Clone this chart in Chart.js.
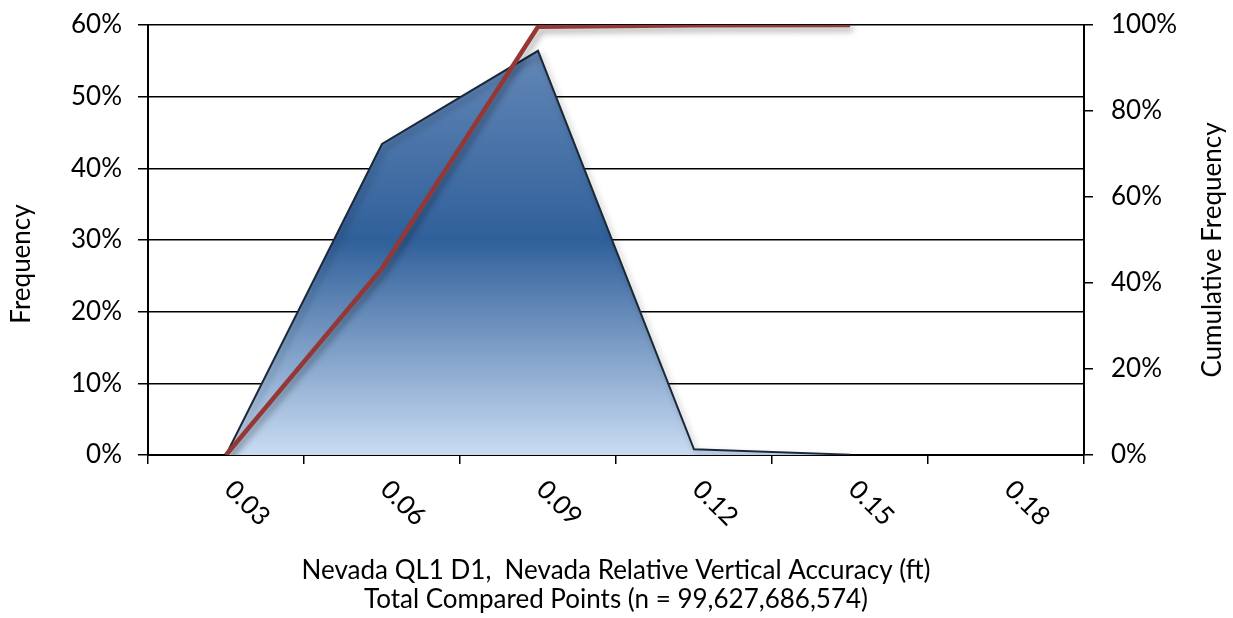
<!DOCTYPE html>
<html>
<head>
<meta charset="utf-8">
<script src="https://cdn.jsdelivr.net/npm/chart.js@4.4.1/dist/chart.umd.min.js"></script>
<style>
  html, body { margin: 0; padding: 0; background: #fff; }
  #wrap { width: 1233px; height: 618px; position: relative; }
</style>
</head>
<body>
<div id="wrap"><canvas id="chart"></canvas></div>
<script>
// data
const categories = ['0.03', '0.06', '0.09', '0.12', '0.15', '0.18'];
const frequency = [0, 43.4, 56.4, 0.8, 0.05, null];
const cumulative = [0, 43.4, 99.6, 99.95, 100, null];
const freqTicks = [0, 10, 20, 30, 40, 50, 60];
const cumTicks = [0, 20, 40, 60, 80, 100];
const xTitle = ['Nevada QL1 D1,  Nevada Relative Vertical Accuracy (ft)', 'Total Compared Points (n = 99,627,686,574)'];
const yTitle = 'Frequency';
const y2Title = 'Cumulative Frequency';

const FONT = 'Lato, "Open Sans", sans-serif';
const FS = 26;
Chart.defaults.font.family = FONT;
Chart.defaults.color = '#000';

function areaFill(context) {
    const area = context.chart.chartArea;
    if (!area) return '#4a72a8';
    const g = context.chart.ctx.createLinearGradient(0, area.top, 0, area.bottom);
    g.addColorStop(0, '#6a8cbb');
    g.addColorStop(0.5, '#30609a');
    g.addColorStop(1, '#c9dcf3');
    return g;
}

// shadow under the area and the line, like the Excel original
const shadowPlugin = {
    id: 'shadow',
    beforeDatasetDraw(chart) {
        const ctx = chart.ctx;
        ctx.save();
        ctx.shadowColor = 'rgba(0,0,0,0.35)';
        ctx.shadowBlur = 6;
        ctx.shadowOffsetX = 3;
        ctx.shadowOffsetY = 4;
    },
    afterDatasetDraw(chart) {
        chart.ctx.restore();
    }
};

// x labels turned 45 degrees clockwise + both y titles reading upward
const labelPlugin = {
    id: 'labels',
    afterDraw(chart) {
        const ctx = chart.ctx;
        const x = chart.scales.x;
        ctx.save();
        ctx.font = FS + 'px ' + FONT;
        ctx.fillStyle = '#000';
        ctx.textAlign = 'left';
        ctx.textBaseline = 'middle';
        categories.forEach((lab, i) => {
            const px = x.getPixelForValue(i);
            ctx.save();
            ctx.translate(px + 3, x.top + 30);
            ctx.rotate(Math.PI / 4);
            ctx.fillText(lab, 0, 0);
            ctx.restore();
        });
        ctx.textAlign = 'center';
        [[yTitle, 22, 264], [y2Title, 1213, 250]].forEach(([t, tx, ty]) => {
            ctx.save();
            ctx.translate(tx, ty);
            ctx.rotate(-Math.PI / 2);
            ctx.fillText(t, 0, 0);
            ctx.restore();
        });
        ctx.restore();
    }
};

function fixY(width) {
    return function(scale) {
        scale.width = width;
        scale.paddingTop = 0;
        scale.paddingBottom = 0;
    };
}

const ctx = document.getElementById('chart').getContext('2d');
const chart = new Chart(ctx, {
    type: 'line',
    data: {
        labels: categories,
        datasets: [{
            label: 'Cumulative Frequency',
            data: cumulative,
            yAxisID: 'y2',
            borderColor: '#953735',
            borderWidth: 4.5,
            pointRadius: 0,
            tension: 0,
            fill: false,
            order: 0
        }, {
            label: 'Frequency',
            data: frequency,
            yAxisID: 'y',
            borderColor: '#1a2838',
            borderWidth: 2,
            backgroundColor: areaFill,
            pointRadius: 0,
            tension: 0,
            fill: 'origin',
            order: 1
        }]
    },
    options: {
        responsive: true,
        maintainAspectRatio: false,
        animation: false,
        layout: { padding: { top: 25, left: 0, right: 0, bottom: 0 } },
        plugins: {
            legend: { display: false },
            tooltip: { enabled: false }
        },
        scales: {
            x: {
                type: 'category',
                offset: true,
                grid: {
                    offset: true,
                    drawOnChartArea: false,
                    color: '#000',
                    lineWidth: 1.5,
                    tickLength: 9
                },
                border: { color: '#000', width: 2 },
                ticks: { display: false },
                title: {
                    display: true,
                    text: xTitle,
                    font: { size: FS, lineHeight: 1.15 },
                    padding: { top: 0, bottom: 3 }
                },
                afterFit(scale) { scale.height = 163; }
            },
            y: {
                position: 'left',
                min: 0,
                max: 60,
                afterBuildTicks(scale) { scale.ticks = freqTicks.map(v => ({ value: v })); },
                ticks: {
                    font: { size: FS },
                    padding: 16,
                    callback: v => v + '%'
                },
                grid: { color: '#000', lineWidth: 1.5, tickLength: 10 },
                border: { color: '#000', width: 2 },
                afterFit: fixY(148)
            },
            y2: {
                position: 'right',
                min: 0,
                max: 100,
                afterBuildTicks(scale) { scale.ticks = cumTicks.map(v => ({ value: v })); },
                ticks: {
                    font: { size: FS },
                    padding: 18,
                    callback: v => v + '%'
                },
                grid: { drawOnChartArea: false, color: '#000', lineWidth: 1.5, tickLength: 9 },
                border: { color: '#000', width: 2 },
                afterFit: fixY(149)
            }
        }
    },
    plugins: [shadowPlugin, labelPlugin]
});
</script>
</body>
</html>
